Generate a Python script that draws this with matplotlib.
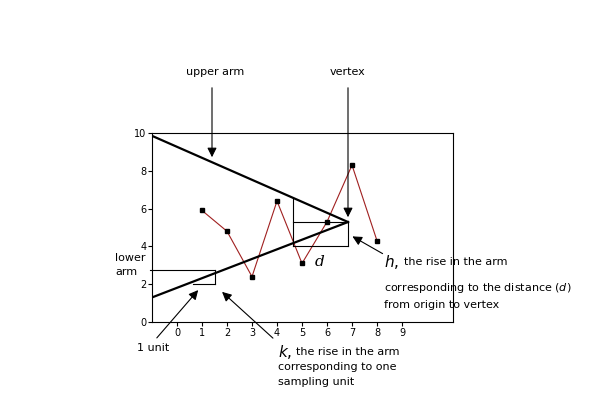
import matplotlib
matplotlib.use("Agg")
import matplotlib.pyplot as plt

xs = [1, 2, 3, 4, 5, 6, 7, 8]
ys = [5.9, 4.8, 2.4, 6.4, 3.1, 5.3, 8.3, 4.3]
vertex = (6.84, 5.29)
upper_start = (-1, 9.85)
lower_start = (-1, 1.3)

fig = plt.figure(figsize=(5.93, 4.08), dpi=100)
ax = fig.add_axes([152/593, 86/408, 301/593, 189/408])
ax.set_xlim(-1, 11.04)
ax.set_ylim(0, 10)
ax.set_xticks(range(10))
ax.set_yticks([0, 2, 4, 6, 8, 10])
ax.tick_params(labelsize=7, length=3, pad=1)
for s in ax.spines.values():
    s.set_linewidth(0.8)

ax.plot(xs, ys, color='#a02020', lw=0.8, marker='s', ms=3, mfc='black', mec='black')
ax.plot([upper_start[0], vertex[0]], [upper_start[1], vertex[1]], color='black', lw=1.6)
ax.plot([lower_start[0], vertex[0]], [lower_start[1], vertex[1]], color='black', lw=1.6)

def px(x, y):
    return ((x - 177) / 25, (322 - y) / 18.9)

def line(p, q, lw=0.8):
    a, b = px(*p), px(*q)
    ax.plot([a[0], b[0]], [a[1], b[1]], color='black', lw=lw, clip_on=False)

# box
line((293, 198), (293, 246))
line((293, 222), (348, 222))
line((293, 246), (348, 246))
line((348, 222), (348, 246))
# lower arm marker
line((150, 270), (215, 270))
line((215, 270), (215, 284))
line((193, 284), (215, 284))

def arrow(p, q):
    ax.annotate('', xy=px(*q), xytext=px(*p), annotation_clip=False,
                arrowprops=dict(arrowstyle='-|>', color='black', lw=0.8, mutation_scale=14))

arrow((212, 85), (212, 160))
arrow((348, 85), (348, 220))
arrow((155, 340), (200, 288))
arrow((275, 340), (220, 290))
arrow((385, 255), (350, 235))

def text(p, s, fontsize=8, **kw):
    ax.text(*px(*p), s, fontsize=fontsize, clip_on=False, **kw)

text((215, 72), 'upper arm', ha='center', va='center')
text((348, 72), 'vertex', ha='center', va='center')
text((115, 265), 'lower\narm', ha='left', va='center', linespacing=1.5)
text((153, 348), '1 unit', ha='center', va='center')
text((320, 262), 'd', ha='center', va='center', family='DejaVu Serif', style='italic', fontsize=11)
text((384, 262), r'$h$,', ha='left', va='center', fontsize=11)
text((404, 262), 'the rise in the arm', ha='left', va='center')
text((384, 281), 'corresponding to the distance ($d$)\nfrom origin to vertex', ha='left', va='top', linespacing=1.6)
text((278, 352), r'$k$,', ha='left', va='center', fontsize=11)
text((296, 352), 'the rise in the arm', ha='left', va='center')
text((278, 362), 'corresponding to one\nsampling unit', ha='left', va='top', linespacing=1.6)

fig.savefig('out.png', dpi=100)
